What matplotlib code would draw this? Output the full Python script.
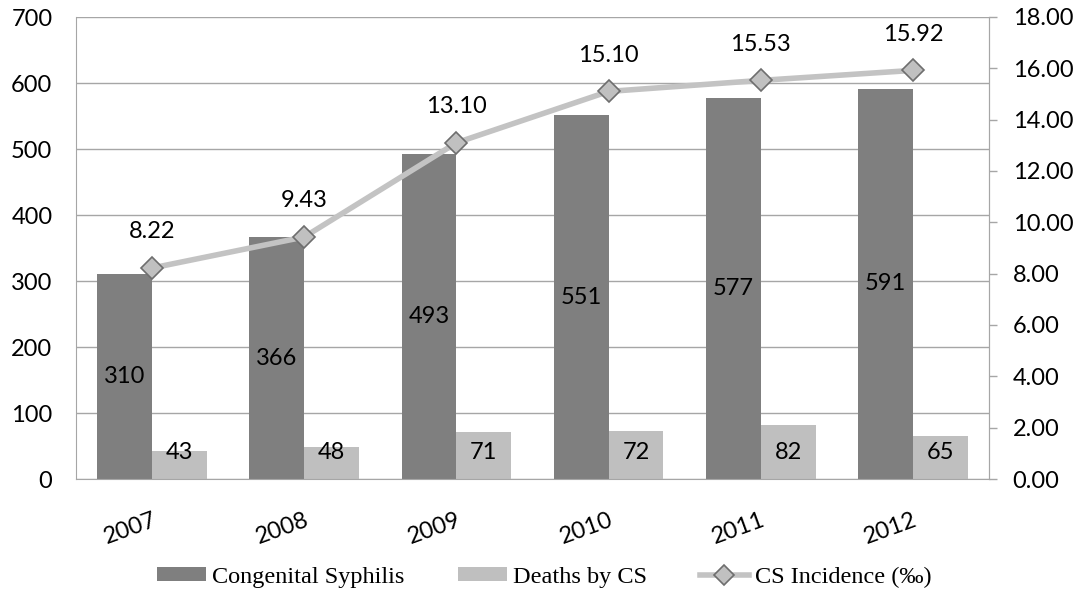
import matplotlib
matplotlib.use("Agg")
import matplotlib.pyplot as plt
from matplotlib.lines import Line2D
from matplotlib.patches import Patch
import numpy as np

years = ["2007", "2008", "2009", "2010", "2011", "2012"]
congenital = [310, 366, 493, 551, 577, 591]
deaths = [43, 48, 71, 72, 82, 65]
incidence = [8.22, 9.43, 13.10, 15.10, 15.53, 15.92]

NUMFONT = "Lato"
LEGFONT = "Liberation Serif"
DARK = "#7f7f7f"
LIGHT = "#bfbfbf"
LINEC = "#c3c3c3"
GRID = "#a6a6a6"
FS = 17

fig = plt.figure(figsize=(10.89, 5.92), dpi=100)
ax = fig.add_axes([76/1089, 1-479/592, (989-76)/1089, (479-17)/592])
ax2 = ax.twinx()

x = np.arange(len(years))
w = 0.36
ax.bar(x - w/2, congenital, w, color=DARK, zorder=2)
ax.bar(x + w/2, deaths, w, color=LIGHT, zorder=2)

for xi, v in zip(x, congenital):
    ax.text(xi - w/2, v/2, str(v), ha="center", va="center",
            fontsize=FS, family=NUMFONT, color="black", zorder=3)
for xi, v in zip(x, deaths):
    ax.annotate(str(v), (xi + w/2, 0), xytext=(0, 19), textcoords="offset points",
                ha="center", va="center", fontsize=FS, family=NUMFONT, zorder=3)

ax.set_xlim(-0.5, len(years) - 0.5)
ax.set_ylim(0, 700)
ax.set_yticks(range(0, 701, 100))
ax.yaxis.grid(True, color=GRID, linewidth=1.0, zorder=0)
ax.set_axisbelow(True)
ax.set_xticks(x)
ax.set_xticklabels(years, rotation=20, ha="right", rotation_mode="anchor")
ax.tick_params(axis="x", length=0, pad=22)
ax.tick_params(axis="y", length=0, pad=17)
for lab in ax.get_xticklabels() + ax.get_yticklabels():
    lab.set_family(NUMFONT)
    lab.set_fontsize(FS)

for s in ["top"]:
    ax.spines[s].set_visible(False)
    ax2.spines[s].set_visible(False)
for s in ["left", "bottom", "right"]:
    ax.spines[s].set_color(GRID)
    ax2.spines[s].set_color(GRID)
ax2.spines["left"].set_visible(False)
ax2.spines["bottom"].set_visible(False)

ax2.plot(x, incidence, color=LINEC, linewidth=4, marker="D", markersize=11,
         markerfacecolor="#c0c0c0", markeredgecolor="#6e6e6e", markeredgewidth=1.2,
         zorder=4, solid_capstyle="round")
for xi, v in zip(x, incidence):
    ax2.annotate(f"{v:.2f}", (xi, v), xytext=(0, 26), textcoords="offset points",
                 ha="center", va="center", fontsize=FS, family=NUMFONT)
ax2.set_ylim(0, 18)
ax2.set_yticks(np.arange(0, 18.1, 2))
ax2.set_yticklabels([f"{t:.2f}" for t in np.arange(0, 18.1, 2)])
ax2.tick_params(axis="y", length=6, width=1, color=GRID, pad=11)
for lab in ax2.get_yticklabels():
    lab.set_family(NUMFONT)
    lab.set_fontsize(FS)

handles = [
    Patch(facecolor=DARK, edgecolor="none"),
    Patch(facecolor=LIGHT, edgecolor="none"),
    Line2D([0], [0], color=LINEC, linewidth=4, marker="D", markersize=10,
           markerfacecolor="#c0c0c0", markeredgecolor="#6e6e6e", markeredgewidth=1.2),
]
labels = ["Congenital Syphilis", "Deaths by CS", "CS Incidence (‰)"]
fig.legend(handles, labels, loc="center", bbox_to_anchor=(0.5, 1-577/592), ncol=3,
           frameon=False, prop={"family": LEGFONT, "size": 17.5},
           handlelength=2.0, handleheight=0.5, handletextpad=0.25, columnspacing=2.2)

fig.savefig("out.png", dpi=100)
